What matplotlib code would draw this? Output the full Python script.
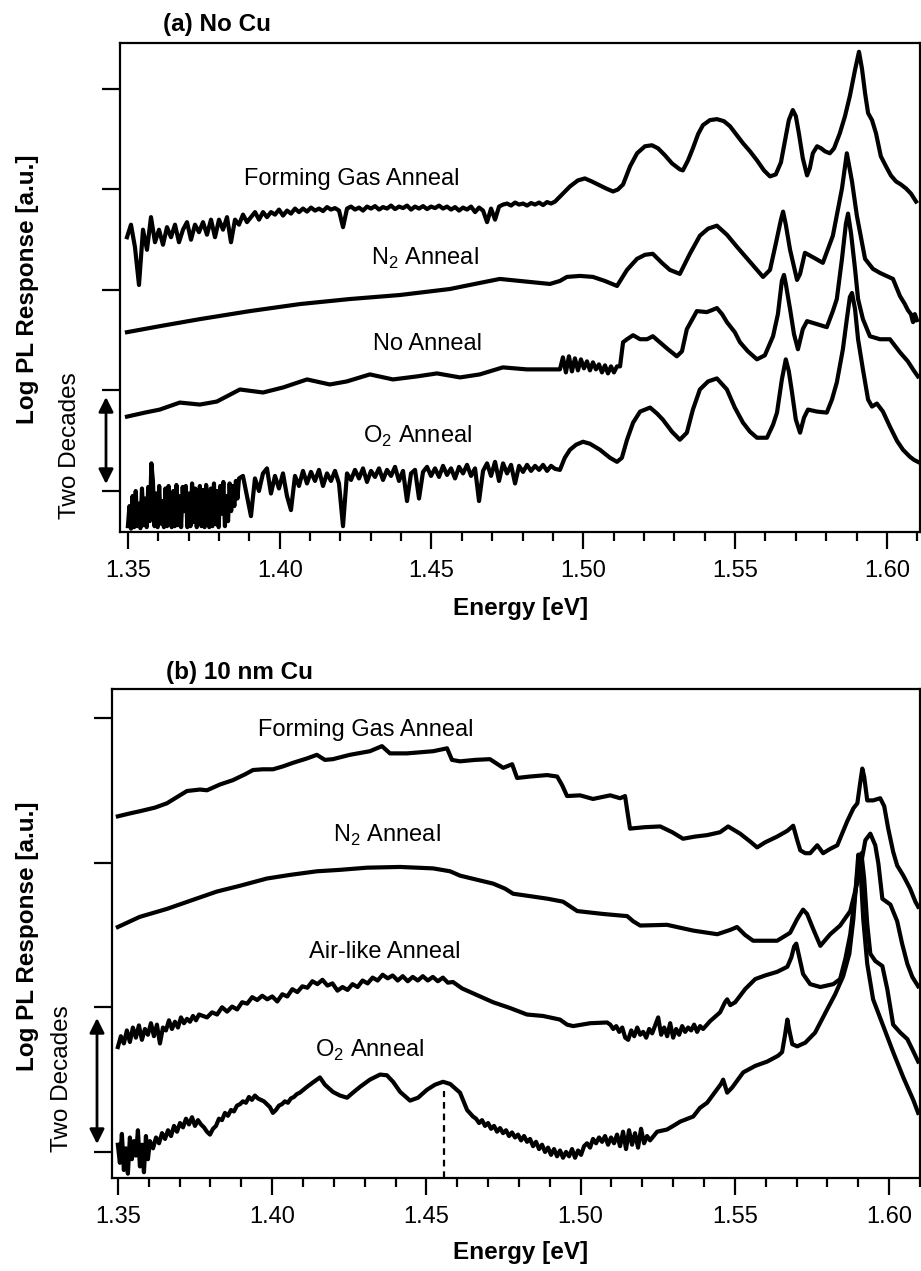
import numpy as np
import matplotlib
matplotlib.use("Agg")
import matplotlib.pyplot as plt
from matplotlib.ticker import MultipleLocator, FormatStrFormatter

plt.rcParams["font.family"] = ["Liberation Sans", "DejaVu Sans"]
plt.rcParams["mathtext.fontset"] = "custom"
plt.rcParams["mathtext.rm"] = "Liberation Sans"

# ---------------------------------------------------------------------------
# Photoluminescence spectra: log10 PL response (decades, traces offset)
# versus photon energy (eV).  Noisy low-signal stretches are listed as
# evenly sampled values between the given start and end energies.
# ---------------------------------------------------------------------------

# ---- panel (a): no Cu ----
a_fga_noise = [(1.3497, 1.4907, [
    5.05, 5.30, 4.85, 4.10, 5.20, 4.80, 5.45, 4.95, 5.20, 4.90, 5.25, 5.05,
    5.30, 4.95, 5.20, 5.35, 5.00, 5.30, 5.15, 5.35, 5.10, 5.40, 5.05, 5.40,
    5.20, 5.45, 4.95, 5.40, 5.30, 5.50, 5.35, 5.45, 5.55, 5.40, 5.55, 5.45,
    5.55, 5.50, 5.60, 5.48, 5.58, 5.52, 5.62, 5.55, 5.62, 5.56, 5.64, 5.58,
    5.62, 5.57, 5.65, 5.60, 5.63, 5.58, 5.25, 5.62, 5.66, 5.60, 5.64, 5.58,
    5.66, 5.62, 5.67, 5.60, 5.65, 5.62, 5.68, 5.61, 5.66, 5.63, 5.68, 5.60,
    5.66, 5.62, 5.67, 5.61, 5.66, 5.63, 5.68, 5.62, 5.66, 5.60, 5.65, 5.58,
    5.64, 5.60, 5.66, 5.55, 5.64, 5.58, 5.35, 5.62, 5.40, 5.66, 5.70, 5.72,
    5.68, 5.74, 5.70, 5.72, 5.68, 5.73, 5.70, 5.74, 5.69, 5.75, 5.72, 5.76])]
a_fga_pts = [
    (1.4930, 5.90), (1.4956, 6.06), (1.4982, 6.18), (1.5005, 6.22), (1.5028, 6.16),
    (1.5055, 6.08), (1.5075, 6.02), (1.5098, 5.96), (1.5114, 6.00), (1.5131, 6.10),
    (1.5154, 6.46), (1.5177, 6.72), (1.5203, 6.86), (1.5226, 6.88), (1.5246, 6.82),
    (1.5269, 6.68), (1.5292, 6.52), (1.5318, 6.40), (1.5328, 6.38), (1.5345, 6.58),
    (1.5361, 6.82), (1.5378, 7.10), (1.5394, 7.28), (1.5417, 7.38), (1.5440, 7.40),
    (1.5463, 7.36), (1.5483, 7.26), (1.5506, 7.08), (1.5526, 6.92), (1.5549, 6.76),
    (1.5572, 6.58), (1.5595, 6.38), (1.5615, 6.26), (1.5634, 6.30), (1.5651, 6.54),
    (1.5664, 6.96), (1.5677, 7.38), (1.5690, 7.58), (1.5700, 7.46), (1.5710, 7.12),
    (1.5723, 6.62), (1.5737, 6.28), (1.5746, 6.42), (1.5756, 6.72), (1.5770, 6.86),
    (1.5783, 6.82), (1.5796, 6.76), (1.5812, 6.72), (1.5826, 6.82), (1.5845, 7.12),
    (1.5862, 7.46), (1.5878, 7.86), (1.5895, 8.38), (1.5908, 8.74), (1.5918, 8.40),
    (1.5928, 7.92), (1.5938, 7.52), (1.5951, 7.38), (1.5964, 7.12), (1.5980, 6.66),
    (1.5997, 6.46), (1.6013, 6.28), (1.6030, 6.16), (1.6046, 6.10), (1.6063, 6.02),
    (1.6079, 5.92), (1.6096, 5.76)]

a_n2_noise = []
a_n2_pts = [
    (1.3497, 3.16), (1.3605, 3.28), (1.3737, 3.42), (1.3902, 3.58), (1.4067, 3.72),
    (1.4231, 3.82), (1.4396, 3.90), (1.4561, 4.02), (1.4659, 4.14), (1.4725, 4.22),
    (1.4791, 4.18), (1.4890, 4.12), (1.4923, 4.18), (1.4946, 4.26), (1.4989, 4.28),
    (1.5032, 4.26), (1.5071, 4.18), (1.5111, 4.08), (1.5144, 4.40), (1.5177, 4.62),
    (1.5203, 4.70), (1.5229, 4.72), (1.5259, 4.54), (1.5285, 4.40), (1.5318, 4.32),
    (1.5351, 4.72), (1.5384, 5.08), (1.5411, 5.22), (1.5440, 5.28), (1.5473, 5.10),
    (1.5506, 4.86), (1.5549, 4.56), (1.5592, 4.26), (1.5615, 4.40), (1.5634, 4.92),
    (1.5651, 5.40), (1.5658, 5.56), (1.5667, 5.30), (1.5681, 4.80), (1.5704, 4.20),
    (1.5714, 4.32), (1.5730, 4.74), (1.5760, 4.64), (1.5789, 4.54), (1.5822, 5.08),
    (1.5852, 6.02), (1.5868, 6.72), (1.5885, 6.16), (1.5901, 5.48), (1.5928, 4.62),
    (1.5954, 4.42), (1.5977, 4.34), (1.6020, 4.22), (1.6043, 3.88), (1.6059, 3.72),
    (1.6069, 3.60), (1.6079, 3.52), (1.6086, 3.36), (1.6092, 3.52), (1.6099, 3.40)]

a_none_noise = [(1.4923, 1.5101, [
    2.42, 2.66, 2.36, 2.68, 2.38, 2.64, 2.40, 2.62, 2.44, 2.58, 2.40, 2.56,
    2.42, 2.52, 2.36, 2.50, 2.34, 2.48, 2.36])]
a_none_pts = [
    (1.3497, 1.48), (1.3556, 1.56), (1.3605, 1.62), (1.3671, 1.76), (1.3737, 1.72),
    (1.3793, 1.78), (1.3869, 2.02), (1.3945, 1.96), (1.4011, 2.06), (1.4090, 2.22),
    (1.4165, 2.12), (1.4221, 2.18), (1.4297, 2.32), (1.4373, 2.22), (1.4452, 2.28),
    (1.4518, 2.34), (1.4594, 2.26), (1.4659, 2.32), (1.4735, 2.46), (1.4814, 2.42),
    (1.4913, 2.42),
    (1.5111, 2.48), (1.5121, 2.48), (1.5131, 2.96), (1.5144, 3.02), (1.5164, 3.10),
    (1.5187, 3.02), (1.5210, 3.02), (1.5229, 3.08), (1.5252, 2.96), (1.5279, 2.82),
    (1.5308, 2.68), (1.5325, 2.78), (1.5341, 3.22), (1.5374, 3.58), (1.5407, 3.56),
    (1.5424, 3.60), (1.5440, 3.64), (1.5457, 3.52), (1.5473, 3.36), (1.5499, 3.16),
    (1.5516, 2.96), (1.5542, 2.78), (1.5572, 2.62), (1.5598, 2.70), (1.5625, 3.08),
    (1.5641, 3.52), (1.5654, 4.18), (1.5661, 4.30), (1.5667, 4.12), (1.5681, 3.62),
    (1.5694, 3.12), (1.5707, 2.82), (1.5723, 3.22), (1.5737, 3.38), (1.5770, 3.32),
    (1.5802, 3.26), (1.5822, 3.58), (1.5835, 3.82), (1.5852, 4.62), (1.5865, 5.32),
    (1.5872, 5.52), (1.5882, 5.12), (1.5895, 4.42), (1.5905, 3.82), (1.5921, 3.42),
    (1.5944, 3.08), (1.5977, 3.02), (1.6010, 3.02), (1.6043, 2.76), (1.6069, 2.58),
    (1.6086, 2.42), (1.6102, 2.28)]

a_o2_noise = [
    (1.3500, 1.3866, [
        -0.70, -0.30, -0.75, -0.10, -0.72, 0.00, -0.70, -0.25, -0.74, 0.05,
        -0.68, -0.15, -0.72, 0.08, -0.60, 0.55, 0.20, -0.70, -0.05, -0.72,
        0.10, -0.65, -0.20, -0.72, 0.05, -0.70, 0.10, -0.55, -0.72, 0.00,
        -0.70, 0.12, -0.68, -0.10, -0.72, 0.08, -0.40, 0.10, -0.72, -0.05,
        -0.70, 0.15, -0.62, 0.05, -0.72, -0.20, 0.10, -0.70, 0.02, -0.72,
        0.12, -0.50, -0.72, 0.05, -0.70, 0.15, -0.66, 0.00, -0.72, 0.10,
        -0.45, 0.18, -0.70, -0.10, -0.60, 0.15, -0.40, 0.10, -0.30, 0.20,
        -0.15, 0.25]),
    (1.3879, 1.4907, [
        0.30, -0.10, -0.50, 0.25, 0.00, 0.35, 0.45, -0.05, 0.30, 0.05, 0.35, -0.10,
        -0.38, 0.30, 0.10, 0.40, 0.15, 0.38, 0.20, 0.42, 0.10, 0.35, 0.20, 0.40,
        0.15, -0.70, 0.35, 0.22, 0.42, 0.25, 0.45, 0.18, 0.40, 0.28, 0.45, 0.22,
        0.42, 0.30, 0.48, 0.20, 0.40, -0.20, 0.35, 0.42, -0.15, 0.38, 0.48, 0.30,
        0.45, 0.28, 0.50, 0.32, 0.45, 0.25, 0.48, 0.35, 0.52, 0.30, 0.45, -0.20,
        0.40, 0.55, 0.30, 0.58, 0.20, 0.55, 0.35, 0.52, 0.15, 0.50, 0.38, 0.52,
        0.40, 0.50, 0.42, 0.52, 0.40, 0.50, 0.44])]
a_o2_pts = [
    (1.4923, 0.42), (1.4939, 0.66), (1.4956, 0.82), (1.4976, 0.92), (1.4999, 0.98),
    (1.5022, 0.94), (1.5055, 0.82), (1.5088, 0.66), (1.5111, 0.58), (1.5127, 0.66),
    (1.5144, 1.02), (1.5164, 1.36), (1.5187, 1.58), (1.5220, 1.66), (1.5243, 1.54),
    (1.5262, 1.42), (1.5292, 1.18), (1.5318, 1.02), (1.5341, 1.16), (1.5361, 1.62),
    (1.5384, 2.02), (1.5411, 2.18), (1.5440, 2.24), (1.5473, 2.02), (1.5499, 1.66),
    (1.5526, 1.36), (1.5549, 1.18), (1.5572, 1.06), (1.5605, 1.06), (1.5625, 1.32),
    (1.5638, 1.56), (1.5654, 2.22), (1.5667, 2.62), (1.5677, 2.38), (1.5687, 1.98),
    (1.5700, 1.42), (1.5714, 1.16), (1.5727, 1.46), (1.5740, 1.62), (1.5770, 1.58),
    (1.5802, 1.56), (1.5819, 1.82), (1.5835, 2.16), (1.5855, 2.82), (1.5868, 3.42),
    (1.5878, 3.86), (1.5885, 3.94), (1.5895, 3.62), (1.5905, 3.02), (1.5921, 2.42),
    (1.5938, 1.82), (1.5951, 1.68), (1.5967, 1.74), (1.5987, 1.58), (1.6010, 1.28),
    (1.6033, 1.00), (1.6053, 0.82), (1.6076, 0.68), (1.6089, 0.62), (1.6102, 0.58)]

# ---- panel (b): 10 nm Cu ----
b_fga_noise = []
b_fga_pts = [
    (1.3500, 4.64), (1.3539, 4.68), (1.3571, 4.71), (1.3620, 4.76), (1.3659, 4.82),
    (1.3701, 4.93), (1.3724, 4.99), (1.3766, 5.01), (1.3789, 5.00), (1.3831, 5.08),
    (1.3873, 5.14), (1.3912, 5.22), (1.3938, 5.28), (1.3970, 5.29), (1.4003, 5.29),
    (1.4035, 5.33), (1.4068, 5.38), (1.4113, 5.44), (1.4145, 5.49), (1.4171, 5.42),
    (1.4197, 5.43), (1.4252, 5.49), (1.4317, 5.54), (1.4356, 5.61), (1.4382, 5.51),
    (1.4437, 5.51), (1.4522, 5.54), (1.4567, 5.58), (1.4583, 5.42), (1.4609, 5.40),
    (1.4658, 5.42), (1.4706, 5.43), (1.4749, 5.31), (1.4778, 5.36), (1.4794, 5.17),
    (1.4836, 5.19), (1.4891, 5.21), (1.4924, 5.19), (1.4940, 5.07), (1.4956, 4.92),
    (1.4998, 4.93), (1.5040, 4.88), (1.5096, 4.93), (1.5128, 4.89), (1.5144, 4.92),
    (1.5151, 4.72), (1.5160, 4.47), (1.5209, 4.49), (1.5258, 4.50), (1.5297, 4.42),
    (1.5332, 4.33), (1.5371, 4.36), (1.5410, 4.38), (1.5452, 4.42), (1.5478, 4.50),
    (1.5517, 4.40), (1.5550, 4.29), (1.5572, 4.21), (1.5598, 4.28), (1.5637, 4.36),
    (1.5670, 4.44), (1.5689, 4.51), (1.5702, 4.31), (1.5712, 4.17), (1.5728, 4.13),
    (1.5744, 4.13), (1.5767, 4.24), (1.5786, 4.13), (1.5809, 4.19), (1.5832, 4.24),
    (1.5864, 4.57), (1.5884, 4.75), (1.5897, 4.82), (1.5906, 5.10), (1.5913, 5.30),
    (1.5919, 5.19), (1.5929, 4.86), (1.5948, 4.86), (1.5971, 4.89), (1.5984, 4.78),
    (1.5997, 4.47), (1.6013, 4.15), (1.6026, 3.96), (1.6046, 3.82), (1.6068, 3.64),
    (1.6085, 3.46), (1.6094, 3.39)]

b_n2_noise = []
b_n2_pts = [
    (1.3500, 3.11), (1.3571, 3.25), (1.3659, 3.36), (1.3733, 3.47), (1.3821, 3.60),
    (1.3896, 3.68), (1.3983, 3.78), (1.4058, 3.83), (1.4145, 3.88), (1.4220, 3.90),
    (1.4308, 3.93), (1.4415, 3.94), (1.4522, 3.92), (1.4577, 3.88), (1.4609, 3.82),
    (1.4667, 3.76), (1.4716, 3.71), (1.4755, 3.64), (1.4781, 3.57), (1.4846, 3.53),
    (1.4894, 3.50), (1.4943, 3.46), (1.4989, 3.33), (1.5031, 3.31), (1.5073, 3.29),
    (1.5151, 3.26), (1.5170, 3.19), (1.5193, 3.13), (1.5280, 3.14), (1.5365, 3.06),
    (1.5443, 3.01), (1.5485, 3.07), (1.5507, 3.11), (1.5533, 3.00), (1.5559, 2.92),
    (1.5637, 2.92), (1.5679, 3.03), (1.5702, 3.22), (1.5721, 3.35), (1.5734, 3.29),
    (1.5754, 3.08), (1.5777, 2.85), (1.5809, 3.01), (1.5841, 3.13), (1.5874, 3.33),
    (1.5900, 3.78), (1.5923, 4.31), (1.5939, 4.40), (1.5955, 4.24), (1.5965, 3.99),
    (1.5978, 3.50), (1.6004, 3.42), (1.6026, 3.19), (1.6042, 2.88), (1.6059, 2.60),
    (1.6075, 2.42), (1.6094, 2.29)]

b_air_noise = [
    (1.3500, 1.3763, [
        1.45, 1.60, 1.50, 1.68, 1.52, 1.72, 1.58, 1.75, 1.55, 1.70, 1.62, 1.78,
        1.60, 1.76, 1.50, 1.72, 1.68, 1.82, 1.70, 1.80, 1.72, 1.86, 1.78, 1.84,
        1.80, 1.88, 1.82, 1.90]),
    (1.3789, 1.4586, [
        1.86, 1.93, 1.90, 2.00, 1.94, 2.01, 1.97, 2.07, 2.05, 2.14, 2.10, 2.16,
        2.11, 2.15, 2.08, 2.18, 2.15, 2.25, 2.21, 2.29, 2.27, 2.36, 2.32, 2.38,
        2.30, 2.33, 2.23, 2.28, 2.24, 2.32, 2.28, 2.37, 2.33, 2.41, 2.37, 2.45,
        2.40, 2.44, 2.37, 2.43, 2.36, 2.42, 2.37, 2.43, 2.37, 2.42, 2.36, 2.41,
        2.34, 2.35]),
    (1.5096, 1.5397, [
        1.76, 1.70, 1.74, 1.66, 1.72, 1.58, 1.55, 1.68, 1.60, 1.72, 1.62, 1.66,
        1.58, 1.70, 1.64, 1.75, 1.86, 1.62, 1.72, 1.60, 1.78, 1.58, 1.70, 1.62,
        1.74, 1.66, 1.72, 1.68, 1.76, 1.66, 1.74, 1.70])]
b_air_pts = [
    (1.4616, 2.26), (1.4658, 2.18), (1.4716, 2.07), (1.4771, 1.99), (1.4826, 1.90),
    (1.4878, 1.88), (1.4933, 1.83), (1.4956, 1.76), (1.4976, 1.74), (1.5031, 1.78),
    (1.5086, 1.79),
    (1.5420, 1.81), (1.5452, 1.93), (1.5468, 2.07), (1.5475, 2.11), (1.5485, 2.03),
    (1.5501, 2.07), (1.5533, 2.25), (1.5566, 2.39), (1.5598, 2.44), (1.5637, 2.49),
    (1.5670, 2.56), (1.5683, 2.69), (1.5692, 2.84), (1.5699, 2.88), (1.5709, 2.69),
    (1.5721, 2.46), (1.5744, 2.32), (1.5777, 2.28), (1.5819, 2.32), (1.5841, 2.39),
    (1.5858, 2.67), (1.5874, 3.01), (1.5890, 3.57), (1.5900, 3.94), (1.5910, 4.13),
    (1.5919, 3.78), (1.5929, 3.15), (1.5939, 2.74), (1.5955, 2.64), (1.5978, 2.57),
    (1.5994, 2.25), (1.6013, 1.76), (1.6036, 1.65), (1.6059, 1.56), (1.6075, 1.42),
    (1.6094, 1.25)]

b_o2_noise = [
    (1.3500, 1.3604, [
        0.10, -0.15, 0.25, -0.25, 0.05, -0.30, 0.20, -0.10, 0.15, -0.05, 0.30,
        -0.20, 0.10, -0.28, 0.22, -0.10, 0.15]),
    (1.3614, 1.4090, [
        0.05, 0.20, 0.12, 0.26, 0.18, 0.30, 0.22, 0.36, 0.28, 0.40, 0.34, 0.46,
        0.38, 0.48, 0.36, 0.44, 0.38, 0.34, 0.28, 0.24, 0.32, 0.36, 0.46, 0.44,
        0.54, 0.50, 0.58, 0.56, 0.64, 0.66, 0.70, 0.68, 0.76, 0.72, 0.78, 0.74,
        0.72, 0.70, 0.66, 0.62, 0.54, 0.58, 0.64, 0.66, 0.70, 0.68, 0.74, 0.76,
        0.80, 0.82]),
    (1.4661, 1.5225, [
        0.46, 0.40, 0.44, 0.36, 0.40, 0.32, 0.36, 0.28, 0.33, 0.26, 0.30, 0.22,
        0.27, 0.20, 0.24, 0.16, 0.22, 0.14, 0.18, 0.08, 0.14, 0.04, 0.10, 0.00,
        0.06, -0.04, 0.04, -0.06, 0.02, -0.08, 0.00, -0.06, 0.04, -0.08, 0.02,
        -0.04, 0.08, 0.12, 0.06, 0.18, 0.12, 0.20, 0.14, 0.22, 0.10, 0.20, 0.12,
        0.24, 0.08, 0.28, 0.04, 0.30, 0.10, 0.26, 0.06, 0.32, 0.12, 0.22, 0.16])]
b_o2_pts = [
    (1.4113, 0.90), (1.4132, 0.96), (1.4155, 1.03), (1.4171, 0.93), (1.4197, 0.83),
    (1.4220, 0.78), (1.4243, 0.75), (1.4262, 0.82), (1.4285, 0.90), (1.4317, 1.00),
    (1.4350, 1.07), (1.4372, 1.06), (1.4392, 0.97), (1.4415, 0.83), (1.4447, 0.71),
    (1.4473, 0.75), (1.4502, 0.86), (1.4528, 0.93), (1.4554, 0.97), (1.4577, 0.94),
    (1.4609, 0.82), (1.4632, 0.58), (1.4651, 0.49),
    (1.5248, 0.28), (1.5280, 0.31), (1.5300, 0.36), (1.5323, 0.42), (1.5365, 0.49),
    (1.5387, 0.61), (1.5410, 0.68), (1.5436, 0.83), (1.5455, 0.94), (1.5462, 1.00),
    (1.5475, 0.82), (1.5491, 0.89), (1.5527, 1.10), (1.5566, 1.19), (1.5605, 1.25),
    (1.5640, 1.33), (1.5653, 1.38), (1.5663, 1.63), (1.5670, 1.83), (1.5676, 1.69),
    (1.5686, 1.49), (1.5702, 1.46), (1.5728, 1.51), (1.5760, 1.65), (1.5799, 1.97),
    (1.5825, 2.18), (1.5851, 2.43), (1.5871, 2.74), (1.5884, 3.22), (1.5894, 3.78),
    (1.5900, 4.11), (1.5907, 3.92), (1.5916, 3.22), (1.5929, 2.60), (1.5948, 2.11),
    (1.5981, 1.74), (1.6013, 1.38), (1.6046, 1.03), (1.6078, 0.72), (1.6094, 0.54)]

# energy of the O2-anneal band marked with a drop line
b_o2_marker_e = 1.4557

panel_a_traces = [
    ("Forming Gas Anneal", a_fga_noise, a_fga_pts, (1.4238, 6.09)),
    (r"N$_\mathregular{2}$ Anneal", a_n2_noise, a_n2_pts, (1.4478, 4.50)),
    ("No Anneal", a_none_noise, a_none_pts, (1.4488, 2.81)),
    (r"O$_\mathregular{2}$ Anneal", a_o2_noise, a_o2_pts, (1.4455, 0.96)),
]
panel_b_traces = [
    ("Forming Gas Anneal", b_fga_noise, b_fga_pts, (1.4304, 5.75)),
    (r"N$_\mathregular{2}$ Anneal", b_n2_noise, b_n2_pts, (1.4372, 4.29)),
    ("Air-like Anneal", b_air_noise, b_air_pts, (1.4366, 2.68)),
    (r"O$_\mathregular{2}$ Anneal", b_o2_noise, b_o2_pts, (1.4317, 1.31)),
]


def assemble(noise_parts, pts):
    """Join evenly sampled noisy stretches with the listed points, sorted by energy."""
    e_parts, v_parts = [], []
    for e0, e1, vals in noise_parts:
        e_parts.append(np.linspace(e0, e1, len(vals)))
        v_parts.append(np.asarray(vals, float))
    if pts:
        arr = np.asarray(pts, float)
        e_parts.append(arr[:, 0])
        v_parts.append(arr[:, 1])
    e = np.concatenate(e_parts)
    v = np.concatenate(v_parts)
    order = np.argsort(e)
    return e[order], v[order]


W, H = 921, 1271
fig = plt.figure(figsize=(W / 100, H / 100), dpi=100)


def fx(px):
    return px / W


def fy(py):
    return 1 - py / H


LW = 3.0
FS = 17


def style_axes(ax, xlim, ylim, yticks):
    ax.set_xlim(*xlim)
    ax.set_ylim(*ylim)
    ax.xaxis.set_major_locator(MultipleLocator(0.05))
    ax.xaxis.set_minor_locator(MultipleLocator(0.01))
    ax.xaxis.set_major_formatter(FormatStrFormatter("%.2f"))
    ax.set_yticks(yticks)
    ax.set_yticklabels([])
    ax.tick_params(axis="x", which="major", direction="out", length=12, width=1.6,
                   labelsize=FS, pad=8, top=False)
    ax.tick_params(axis="x", which="minor", direction="out", length=6.5, width=1.6,
                   top=False)
    ax.tick_params(axis="y", which="major", direction="out", length=13, width=1.6,
                   right=False)
    for sp in ax.spines.values():
        sp.set_linewidth(1.6)


# panel (a)
ax_a = fig.add_axes([fx(120), fy(532), fx(920) - fx(120), fy(43) - fy(532)])
for label, noise, pts, (tx, ty) in panel_a_traces:
    e, v = assemble(noise, pts)
    ax_a.plot(e, v, color="black", lw=LW, solid_joinstyle="round")
    ax_a.text(tx, ty, label, ha="center", va="baseline", fontsize=FS)
style_axes(ax_a, (1.3474, 1.6109), (-0.816, 8.915), [0, 2, 4, 6, 8])

# panel (b)
ax_b = fig.add_axes([fx(112), fy(1178), fx(920) - fx(112), fy(689) - fy(1178)])
for label, noise, pts, (tx, ty) in panel_b_traces:
    e, v = assemble(noise, pts)
    ax_b.plot(e, v, color="black", lw=LW, solid_joinstyle="round")
    ax_b.text(tx, ty, label, ha="center", va="baseline", fontsize=FS)
style_axes(ax_b, (1.3481, 1.6100), (-0.36, 6.40), [0, 2, 4, 6])

e_o2, v_o2 = assemble(b_o2_noise, b_o2_pts)
ymin_b = ax_b.get_ylim()[0]
ax_b.plot([b_o2_marker_e, b_o2_marker_e],
          [ymin_b, np.interp(b_o2_marker_e, e_o2, v_o2) - 0.12],
          color="black", lw=1.6, linestyle=(0, (3, 2.2)))

# titles, axis labels and the two-decade scale bars
fig.text(fx(163), fy(31), "(a) No Cu", fontsize=17.5, fontweight="bold",
         ha="left", va="baseline")
fig.text(fx(166), fy(679), "(b) 10 nm Cu", fontsize=17.5, fontweight="bold",
         ha="left", va="baseline")

for ycen in (289, 936):
    fig.text(fx(28), fy(ycen), "Log PL Response [a.u.]", fontsize=17.5,
             fontweight="bold", rotation=90, ha="center", va="center")
for base in (615, 1259):
    fig.text(fx(521), fy(base), "Energy [eV]", fontsize=17.5, fontweight="bold",
             ha="center", va="baseline")

for xc, ycen in ((70, 446), (62, 1079)):
    fig.text(fx(xc), fy(ycen), "Two Decades", fontsize=17.5, rotation=90,
             ha="center", va="center")

for xa, y0, y1 in ((106, 397, 484), (97, 1018, 1144)):
    fig.add_artist(matplotlib.patches.FancyArrowPatch(
        (fx(xa), fy(y0)), (fx(xa), fy(y1)), transform=fig.transFigure,
        arrowstyle="<|-|>", mutation_scale=22, lw=2.0, color="black",
        shrinkA=0, shrinkB=0))

fig.savefig("out.png", dpi=100)
